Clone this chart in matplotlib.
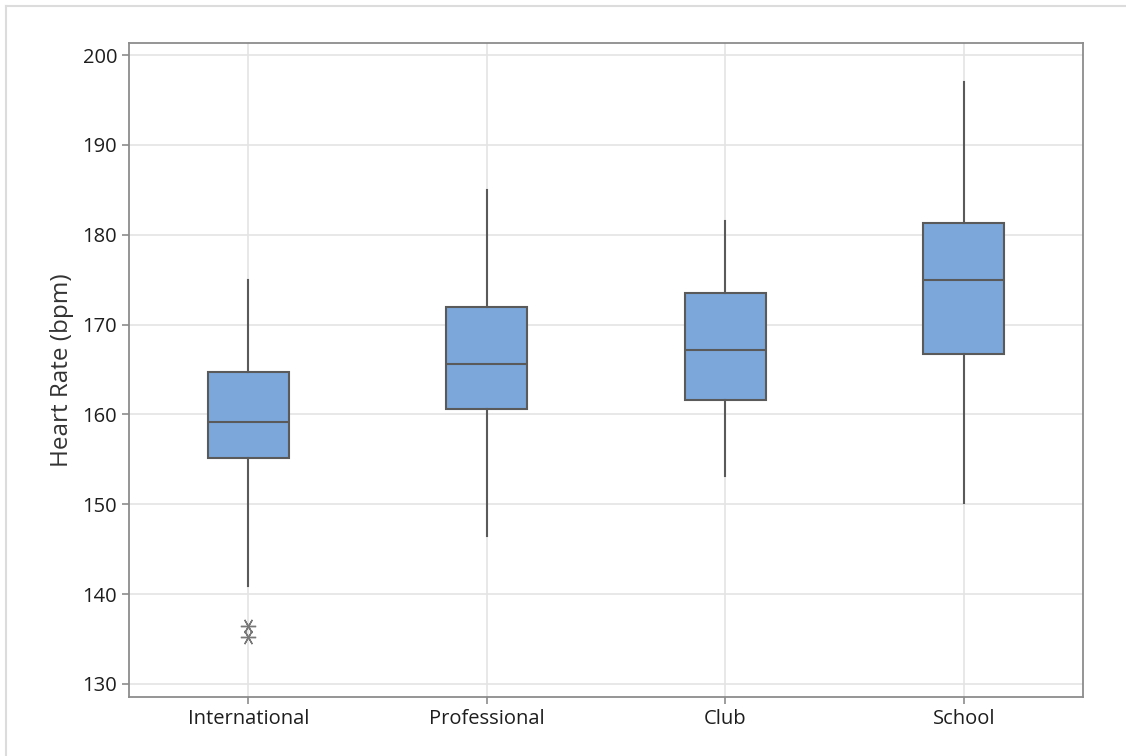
import matplotlib
matplotlib.use('Agg')
import matplotlib.pyplot as plt
from matplotlib.lines import Line2D

plt.rcParams['font.family'] = ['Open Sans', 'DejaVu Sans']

# Box plot summary values
groups = ['International', 'Professional', 'Club', 'School']
whis_lo = [140.9, 146.5, 153.1, 150.2]
q1 = [155.2, 160.6, 161.6, 166.7]
median = [159.2, 165.6, 167.2, 175.0]
q3 = [164.7, 172.0, 173.5, 181.3]
whis_hi = [175.0, 185.0, 181.5, 197.0]
outliers = [[136.4, 135.2], [], [], []]

stats = []
for i in range(len(groups)):
    stats.append({'label': groups[i], 'whislo': whis_lo[i], 'q1': q1[i],
                  'med': median[i], 'q3': q3[i], 'whishi': whis_hi[i],
                  'fliers': outliers[i]})

fig = plt.figure(figsize=(11.26, 7.56), dpi=100)
ax = fig.add_axes([129 / 1126, 1 - 697 / 756, (1083 - 129) / 1126, (697 - 43) / 756])

edge = '#5a5a5a'
ax.bxp(stats, positions=range(len(groups)), widths=0.34, patch_artist=True,
       boxprops=dict(facecolor='#7ba7da', edgecolor=edge, linewidth=1.5),
       medianprops=dict(color=edge, linewidth=1.5),
       whiskerprops=dict(color=edge, linewidth=1.5),
       capprops=dict(linewidth=0), showcaps=False,
       flierprops=dict(marker=(6, 2, 90), markersize=11, markeredgecolor='#787878',
                       markeredgewidth=1.0, linestyle='none'))

ax.set_xlim(-0.5, len(groups) - 0.5)
ax.set_ylim(128.55, 201.35)
ax.set_yticks([130, 140, 150, 160, 170, 180, 190, 200])
ax.set_xticks(range(len(groups)))
ax.set_xticklabels(groups)
ax.grid(True, color='#e4e4e4', linewidth=1.2)
ax.set_axisbelow(True)

for s in ax.spines.values():
    s.set_color('#8c8c8c')
    s.set_linewidth(1.3)
ax.tick_params(axis='both', colors='#8c8c8c', length=5, width=1.2, labelsize=14.5,
               labelcolor='#1e1e1e')
for lbl in ax.get_xticklabels() + ax.get_yticklabels():
    lbl.set_fontweight('medium')
ax.set_ylabel('Heart Rate (bpm)', fontsize=17.5, color='#333333', labelpad=6,
              fontweight='medium')

# Light frame around the figure
fig.add_artist(Line2D([6 / 1126, 6 / 1126], [0, 1 - 6 / 756], color='#dcdcdc', linewidth=1.5))
fig.add_artist(Line2D([6 / 1126, 1], [1 - 6 / 756, 1 - 6 / 756], color='#dcdcdc', linewidth=1.5))

fig.savefig('out.png', dpi=100)
